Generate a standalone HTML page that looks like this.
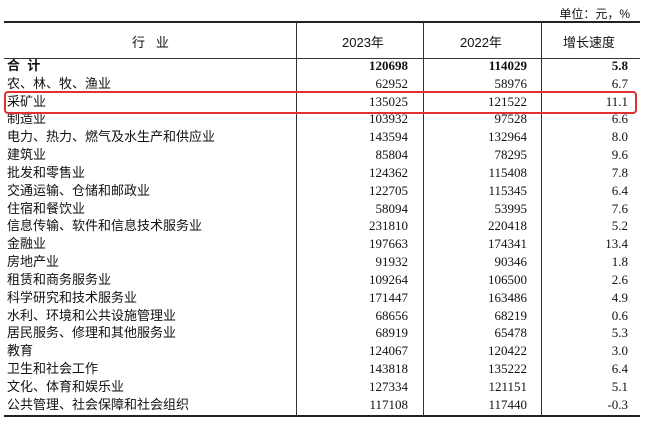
<!DOCTYPE html>
<html><head><meta charset="utf-8"><style>
body{margin:0;width:649px;height:430px;background:#fff;position:relative;overflow:hidden;font-family:"Liberation Serif","Noto Serif CJK SC",serif;color:#111}
.u{position:absolute;right:19px;top:5px;font-size:12px;font-family:"Liberation Sans","Noto Sans CJK SC",sans-serif}
.top{position:absolute;left:4px;width:636px;top:21px;height:2px;background:#222}
.hl{position:absolute;left:4px;width:636px;top:58px;height:1px;background:#333}
.bot{position:absolute;left:4px;width:636px;top:415px;height:2px;background:#222}
.v{position:absolute;top:22px;height:394px;width:1px;background:#333}
.h{position:absolute;top:32px;font-size:13px;font-family:"Liberation Sans","Noto Sans CJK SC",sans-serif}
.r{position:absolute;left:0;width:649px;height:18px;font-size:13px;line-height:18px}
.r span{position:absolute}
.l{left:7px;font-family:"Liberation Sans","Noto Sans CJK SC",sans-serif}
.a{right:241px}.b{right:122px}.c{right:21px}
.box{position:absolute;left:4px;top:91px;width:629px;height:19px;border:2px solid #e03030;border-radius:4px}
</style></head><body>
<div class="u">单位：元，%</div>
<div class="top"></div><div class="hl"></div><div class="bot"></div>
<div class="v" style="left:296px"></div><div class="v" style="left:423px"></div><div class="v" style="left:541px"></div>
<div class="h" style="left:132px">行&nbsp;&nbsp;&nbsp;业</div>
<div class="h" style="left:342px">2023年</div>
<div class="h" style="left:460px">2022年</div>
<div class="h" style="left:563px">增长速度</div>
<div id="rows"></div>
<div class="r" style="top:57px;font-weight:bold"><span class="l">合&nbsp;&nbsp;计</span><span class="a">120698</span><span class="b">114029</span><span class="c">5.8</span></div>
<div class="r" style="top:75px"><span class="l">农、林、牧、渔业</span><span class="a">62952</span><span class="b">58976</span><span class="c">6.7</span></div>
<div class="r" style="top:93px"><span class="l">采矿业</span><span class="a">135025</span><span class="b">121522</span><span class="c">11.1</span></div>
<div class="r" style="top:110px"><span class="l">制造业</span><span class="a">103932</span><span class="b">97528</span><span class="c">6.6</span></div>
<div class="r" style="top:128px"><span class="l">电力、热力、燃气及水生产和供应业</span><span class="a">143594</span><span class="b">132964</span><span class="c">8.0</span></div>
<div class="r" style="top:146px"><span class="l">建筑业</span><span class="a">85804</span><span class="b">78295</span><span class="c">9.6</span></div>
<div class="r" style="top:164px"><span class="l">批发和零售业</span><span class="a">124362</span><span class="b">115408</span><span class="c">7.8</span></div>
<div class="r" style="top:182px"><span class="l">交通运输、仓储和邮政业</span><span class="a">122705</span><span class="b">115345</span><span class="c">6.4</span></div>
<div class="r" style="top:200px"><span class="l">住宿和餐饮业</span><span class="a">58094</span><span class="b">53995</span><span class="c">7.6</span></div>
<div class="r" style="top:217px"><span class="l">信息传输、软件和信息技术服务业</span><span class="a">231810</span><span class="b">220418</span><span class="c">5.2</span></div>
<div class="r" style="top:235px"><span class="l">金融业</span><span class="a">197663</span><span class="b">174341</span><span class="c">13.4</span></div>
<div class="r" style="top:253px"><span class="l">房地产业</span><span class="a">91932</span><span class="b">90346</span><span class="c">1.8</span></div>
<div class="r" style="top:271px"><span class="l">租赁和商务服务业</span><span class="a">109264</span><span class="b">106500</span><span class="c">2.6</span></div>
<div class="r" style="top:289px"><span class="l">科学研究和技术服务业</span><span class="a">171447</span><span class="b">163486</span><span class="c">4.9</span></div>
<div class="r" style="top:307px"><span class="l">水利、环境和公共设施管理业</span><span class="a">68656</span><span class="b">68219</span><span class="c">0.6</span></div>
<div class="r" style="top:324px"><span class="l">居民服务、修理和其他服务业</span><span class="a">68919</span><span class="b">65478</span><span class="c">5.3</span></div>
<div class="r" style="top:342px"><span class="l">教育</span><span class="a">124067</span><span class="b">120422</span><span class="c">3.0</span></div>
<div class="r" style="top:360px"><span class="l">卫生和社会工作</span><span class="a">143818</span><span class="b">135222</span><span class="c">6.4</span></div>
<div class="r" style="top:378px"><span class="l">文化、体育和娱乐业</span><span class="a">127334</span><span class="b">121151</span><span class="c">5.1</span></div>
<div class="r" style="top:396px"><span class="l">公共管理、社会保障和社会组织</span><span class="a">117108</span><span class="b">117440</span><span class="c">-0.3</span></div>
<div class="box"></div>
</body></html>
